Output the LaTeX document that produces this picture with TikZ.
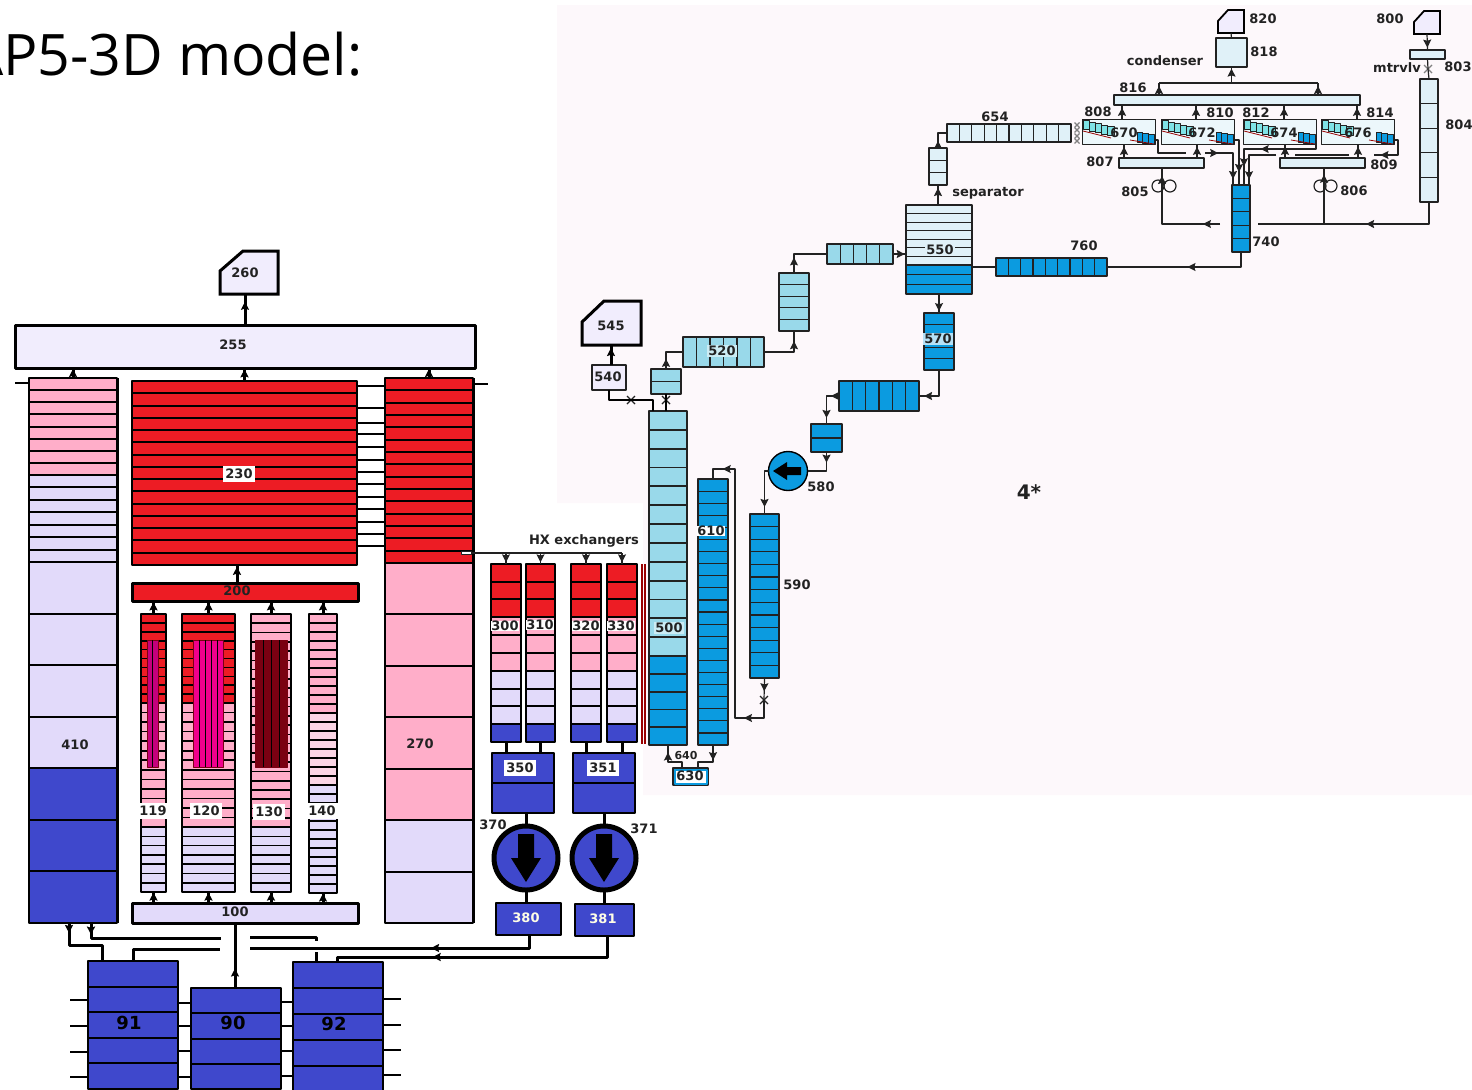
\documentclass[tikz,border=0pt]{standalone}
\usepackage{fontspec}
\usepackage{xcolor}
\usepackage{tikz}
\usetikzlibrary{arrows.meta,decorations.markings,shapes.misc}
\setmainfont{DejaVu Sans}
\newfontfamily\titlefont{Open Sans}
\definecolor{redc}{HTML}{ED1C24}
\definecolor{pinkc}{HTML}{FFAEC9}
\definecolor{palepinkc}{HTML}{FBD5E5}
\definecolor{lavc}{HTML}{E2DAFA}
\definecolor{palelavc}{HTML}{F1EDFD}
\definecolor{bluec}{HTML}{3F48CC}
\definecolor{skyc}{HTML}{99D9EA}
\definecolor{deepc}{HTML}{0B9BE0}
\definecolor{icec}{HTML}{E0F1F8}
\definecolor{tealc}{HTML}{7FE3E6}
\definecolor{bgc}{HTML}{FDF8FB}
\definecolor{inkc}{HTML}{222222}
\definecolor{rodac}{HTML}{C4007C}
\definecolor{rodbc}{HTML}{F0008C}
\definecolor{rodcc}{HTML}{7A0012}
\tikzset{
  stack/.style={draw=black,line width=1pt,inner sep=0pt,outer sep=0pt},
  divider/.style={draw=black,line width=1pt},
  thinpart/.style={stack/.append style={draw=inkc,line width=.6pt},divider/.append style={draw=inkc,line width=.6pt}},
  lbl/.style={font=\bfseries\fontsize{6.5}{7}\selectfont,text=inkc,inner sep=.6pt},
  lblw/.style={lbl,fill=white,inner sep=1.4pt},
  lblt/.style={lbl,fill=white,inner sep=.2pt},
  lblb/.style={lbl,fill=#1,inner sep=.6pt},
  pipe/.style={draw=inkc,line width=.6pt},
  hpipe/.style={draw=black,line width=1.5pt},
  arrowat/.style={postaction={decorate,decoration={markings,mark=at position #1 with {\arrow{Stealth[length=4pt,width=4pt,inset=.6pt]}}}}},
  valve/.style={cross out,draw=inkc,line width=.6pt,minimum size=4pt,inner sep=0pt,outer sep=0pt},
  loopc/.style={circle,draw=inkc,line width=.6pt,minimum size=6pt,inner sep=0pt},
  pumpc/.style={circle,draw=black,inner sep=0pt,outer sep=0pt},
}
% cells stacked downwards: name, x0, x1, y0, y1, count, colour
\newcommand{\vcells}[7]{%
  \pgfmathsetmacro\cellw{(#3-#2)*0.5}%
  \pgfmathsetmacro\cellh{(#5-#4)*0.5}%
  \node[stack,fill=#7,minimum width=\cellw pt,minimum height=\cellh pt] (#1) at ({(#2+#3)/2},{(#4+#5)/2}) {};
  \pgfmathtruncatemacro\celln{#6-1}%
  \ifnum\celln>0
    \foreach \k in {1,...,\celln}{\pgfmathsetmacro\yk{#4+\k*(#5-#4)/#6}\draw[divider] (#2,\yk) -- (#3,\yk);}
  \fi
}
% cells side by side
\newcommand{\hcells}[7]{%
  \pgfmathsetmacro\cellw{(#3-#2)*0.5}%
  \pgfmathsetmacro\cellh{(#5-#4)*0.5}%
  \node[stack,fill=#7,minimum width=\cellw pt,minimum height=\cellh pt] (#1) at ({(#2+#3)/2},{(#4+#5)/2}) {};
  \pgfmathtruncatemacro\celln{#6-1}%
  \ifnum\celln>0
    \foreach \k in {1,...,\celln}{\pgfmathsetmacro\xk{#2+\k*(#3-#2)/#6}\draw[divider] (\xk,#4) -- (\xk,#5);}
  \fi
}
% tank with a cut corner: name, x0, x1, y0, y1, cut x, cut y, width
\newcommand{\tank}[8]{%
  \draw[draw=black,line width=#8,fill=palelavc,line join=miter] (#2,#5) -- (#2,#7) -- (#6,#4) -- (#3,#4) -- (#3,#5) -- cycle;
  \pgfmathsetmacro\cellw{(#3-#2)*0.5}%
  \pgfmathsetmacro\cellh{(#5-#4)*0.5}%
  \node[inner sep=0pt,outer sep=0pt,minimum width=\cellw pt,minimum height=\cellh pt] (#1) at ({(#2+#3)/2},{(#4+#5)/2}) {};
}
% condenser unit with its slanted tubes
\newcommand{\condunit}[2]{%
  \node[stack,fill=icec!60!white,line width=.5pt,minimum width=36.5pt,minimum height=12.5pt] (#1) at ({#2+36.5},131.5) {};
  \foreach \i in {0,...,4}{\draw[draw=inkc,line width=.4pt,fill=tealc] ({#2+1+6.2*\i},{120.5+1.5*\i}) rectangle +(6.2,9);}
  \foreach \i in {0,...,2}{\draw[draw=inkc,line width=.4pt,fill=deepc] ({#2+55+5.8*\i},{132+1.2*\i}) rectangle +(5.8,10);}
  \draw[draw=red!60!black,line width=.4pt] (#2+1,131) -- (#2+29,138);
  \draw[draw=red!60!black,line width=.4pt] (#2+48,140) -- (#2+72,144);
}
\begin{document}
\begin{tikzpicture}[x=0.5pt,y=-0.5pt,>=Stealth,line join=round]
  \useasboundingbox (0,0) rectangle (1472,1089);
  \fill[bgc] (557,5) -- (1472,5) -- (1472,795) -- (643,795) -- (643,503) -- (557,503) -- cycle;
  \node[anchor=base east,font=\titlefont\fontsize{28.6}{30}\selectfont,text=black,inner sep=0pt] (title) at (363,75) {AP5-3D model:};

  % primary side
  \tank{t260}{220}{278}{251}{294}{243}{271}{1.5pt}
  \begin{scope}[stack/.append style={line width=1.5pt}]
    \vcells{c255}{15}{475}{325}{368}{1}{palelavc}
    \vcells{c200}{132}{358}{583}{601}{1}{redc}
    \vcells{c100}{132}{358}{903}{923}{1}{lavc}
  \end{scope}
  \vcells{c410a}{29}{117}{378}{475}{8}{pinkc}
  \vcells{c410b}{29}{117}{475}{562}{7}{lavc}
  \vcells{c410c}{29}{117}{562}{768}{4}{lavc}
  \vcells{c410d}{29}{117}{768}{923}{3}{bluec}
  \vcells{c230}{132}{357}{381}{565}{15}{redc}
  \vcells{c270a}{385}{473}{378}{563}{15}{redc}
  \vcells{c270b}{385}{473}{563}{820}{5}{pinkc}
  \vcells{c270c}{385}{473}{820}{923}{2}{lavc}
  \draw[divider,line width=1.5pt] (117,378) -- (117,923);
  \draw[divider,line width=1.5pt] (473,378) -- (473,923);
  \draw[divider] (15,383) -- (30,383);
  \draw[divider] (473,384) -- (488,384);
  \foreach \y in {386,408,423,434,447,460,472,484,497,509,522,534,546}{\draw[divider] (357,\y) -- (385,\y);}
  \begin{scope}[stack/.append style={line width=.8pt},divider/.append style={line width=.8pt}]
    \vcells{c119a}{141}{166}{614}{703}{10}{redc}
    \vcells{c119b}{141}{166}{703}{827}{13}{pinkc}
    \vcells{c119c}{141}{166}{827}{892}{7}{lavc}
    \vcells{c120a}{182}{235}{614}{703}{10}{redc}
    \vcells{c120b}{182}{235}{703}{827}{13}{pinkc}
    \vcells{c120c}{182}{235}{827}{892}{7}{lavc}
    \vcells{c130a}{251}{291}{614}{827}{23}{pinkc}
    \vcells{c130c}{251}{291}{827}{892}{7}{lavc}
    \vcells{c140a}{309}{337}{614}{713}{11}{pinkc}
    \vcells{c140b}{309}{337}{713}{785}{8}{palepinkc}
    \vcells{c140c}{309}{337}{785}{893}{12}{lavc}
  \end{scope}
  \begin{scope}[stack/.append style={line width=.4pt,draw=rodcc},divider/.append style={line width=.4pt}]
    \hcells{rod119}{147}{158}{640}{767}{2}{rodac}
    \hcells{rod120}{193}{223}{640}{767}{5}{rodbc}
    \hcells{rod130}{255}{287}{640}{767}{4}{rodcc}
  \end{scope}

  % HX legs
  \foreach \nm/\xa/\xb in {c300/491/521,c310/526/555,c320/571/601,c330/607/637}{
    \vcells{\nm a}{\xa}{\xb}{564}{617}{3}{redc}
    \vcells{\nm b}{\xa}{\xb}{617}{671}{3}{pinkc}
    \vcells{\nm c}{\xa}{\xb}{671}{724}{3}{lavc}
    \vcells{\nm d}{\xa}{\xb}{724}{742}{1}{bluec}
  }
  \draw[red!60!black,line width=.6pt] (642,564) -- (642,744);
  \draw[red!60!black,line width=.6pt] (645,564) -- (645,744);
  \vcells{c350}{492}{554}{753}{813}{2}{bluec}
  \vcells{c351}{573}{635}{753}{813}{2}{bluec}
  \vcells{c380}{496}{561}{903}{935}{1}{bluec}
  \vcells{c381}{575}{634}{904}{936}{1}{bluec}
  \foreach \nm/\cx in {p370/526,p371/604}{
    \node[pumpc,fill=bluec,line width=2.5pt,minimum size=32pt] (\nm) at (\cx,858) {};
    \fill[black,shift={(\nm.center)}] (-8,-24) -- (8,-24) -- (8,0) -- (15,0) -- (0,24) -- (-15,0) -- (-8,0) -- cycle;
  }
  \vcells{c91}{88}{178}{961}{1089}{5}{bluec}
  \vcells{c90}{191}{281}{988}{1089}{4}{bluec}
  \vcells{c92}{293}{383}{962}{1092}{5}{bluec}
  \foreach \y in {1000,1026,1052,1077}{\draw[divider] (70,\y) -- (88,\y);}
  \foreach \y in {1003,1026,1051,1077}{\draw[divider] (178,\y) -- (191,\y);}
  \foreach \y in {1002,1026,1051,1076}{\draw[divider] (281,\y) -- (293,\y);}
  \foreach \y in {999,1025,1050,1075}{\draw[divider] (383,\y) -- (401,\y);}

  % secondary side
  \begin{scope}[thinpart]
    \begin{scope}[stack/.append style={line width=.9pt},divider/.append style={line width=.9pt}]
      \vcells{c500a}{649}{687}{411}{656}{13}{skyc}
      \vcells{c500b}{649}{687}{656}{745}{5}{deepc}
    \end{scope}
    \vcells{c610}{698}{728}{479}{745}{22}{deepc}
    \vcells{c590}{750}{779}{514}{678}{13}{deepc}
    \vcells{c630}{673}{708}{768}{785}{1}{deepc}
    \vcells{c500t}{651}{681}{369}{394}{2}{skyc}
    \hcells{c520}{683}{764}{337}{367}{6}{skyc}
    \vcells{c531}{779}{809}{273}{331}{5}{skyc}
    \hcells{c532}{827}{893}{244}{264}{5}{skyc}
    \vcells{c550a}{906}{972}{205}{265}{7}{icec}
    \vcells{c550b}{906}{972}{265}{294}{3}{deepc}
    \vcells{c570}{924}{954}{313}{370}{5}{deepc}
    \hcells{c575}{839}{919}{381}{411}{6}{deepc}
    \vcells{c578}{811}{842}{424}{452}{2}{deepc}
    \vcells{c540}{592}{626}{365}{390}{1}{palelavc}
    \vcells{csep}{929}{947}{148}{185}{3}{icec}
    \hcells{c654}{947}{1071}{124}{142}{10}{icec}
    \hcells{c760}{996}{1107}{258}{276}{9}{deepc}
    \vcells{c740}{1232}{1250}{185}{252}{5}{deepc}
    \vcells{c816}{1114}{1360}{95}{105}{1}{icec}
    \vcells{c818}{1216}{1247}{38}{67}{1}{icec}
    \vcells{c807}{1119}{1204}{158}{168}{1}{icec}
    \vcells{c809}{1280}{1365}{158}{168}{1}{icec}
    \vcells{c803}{1410}{1445}{50}{59}{1}{icec}
    \vcells{c804}{1420}{1438}{79}{202}{5}{icec}
    \condunit{u670}{1082}
    \condunit{u672}{1161}
    \condunit{u674}{1243}
    \condunit{u676}{1321}
  \end{scope}
  \node[draw=deepc,fill=white,line width=1pt,minimum width=16pt,minimum height=7pt,inner sep=0pt] (c630i) at (c630) {};
  \tank{t545}{582}{641}{301}{345}{604}{322}{1.5pt}
  \tank{t820}{1218}{1244}{10}{33}{1228}{21}{.9pt}
  \tank{t800}{1414}{1440}{11}{34}{1424}{22}{.9pt}
  \node[pumpc,fill=deepc,line width=.7pt,minimum size=19.5pt] (p580) at (788,471) {};
  \fill[black,shift={(p580.center)}] (-15,0) -- (-1,-9) -- (-1,-4) -- (13,-4) -- (13,4) -- (-1,4) -- (-1,9) -- cycle;

  % labels
  \foreach \n/\x/\y in {260/245/273,255/233/345,410/75/745,270/420/744,545/611/326,540/608/377,
      580/821/487,590/797/585,370/493/825,371/644/829,654/995/117,760/1084/246,740/1266/242,
      808/1098/112,810/1220/113,812/1256/113,814/1380/113,816/1133/88,818/1264/52,820/1263/19,
      800/1390/19,803/1458/67,804/1459/125,805/1135/192,806/1354/191,807/1100/162,809/1384/165,
      670/1124/133,672/1202/133,674/1284/133,676/1358/133,630/690/776}{
    \node[lbl] (l\n) at (\x,\y) {\n};
  }
  \foreach \n/\x/\y in {230/239/474,119/153/811,120/206/811,130/269/812,140/322/811,350/520/768,351/603/768}{
    \node[lblw] (l\n) at (\x,\y) {\n};
  }
  \foreach \n/\x/\y in {300/505/626,310/540/625,320/586/626,330/621/626,610/711/531}{
    \node[lblt] (l\n) at (\x,\y) {\n};
  }
  \node[lbl] (l200) at (237,591) {200};
  \node[lbl] (l100) at (235,912) {100};
  \node[lbl,font=\bfseries\fontsize{5.5}{6}\selectfont] (l640) at (686,755) {640};
  \node[lblb=skyc!50!white] (l500) at (669,628) {500};
  \node[lblb=skyc!50!white] (l520) at (722,351) {520};
  \node[lblb=icec] (l550) at (940,250) {550};
  \node[lblb=white!70!deepc] (l570) at (938,339) {570};
  \node[lbl,text=white!90!yellow] (l380) at (526,918) {380};
  \node[lbl,text=white!90!yellow] (l381) at (603,919) {381};
  \foreach \n/\x/\y in {91/129/1023,90/233/1023,92/334/1024}{
    \node[lbl,font=\bfseries\fontsize{9}{10}\selectfont,text=black] (l\n) at (\x,\y) {\n};
  }
  \node[lbl] (lhx) at (584,541) {HX exchangers};
  \node[lbl] (lcond) at (1165,61) {condenser};
  \node[lbl] (lsep) at (988,193) {separator};
  \node[lbl] (lmtr) at (1397,68) {mtrvlv};
  \node[lbl,font=\bfseries\fontsize{10}{11}\selectfont] (lfour) at (1029,492) {4*};

  % primary connectors
  \draw[hpipe,arrowat=.75] (c255.north -| l260) -- (t260.south -| l260);
  \draw[hpipe,arrowat=.9] (c410a.north) -- (c410a.north |- c255.south);
  \draw[hpipe,arrowat=.9] (c230.north) -- (c230.north |- c255.south);
  \draw[hpipe,arrowat=.9] (c270a.north) -- (c270a.north |- c255.south);
  \draw[hpipe,arrowat=.9] (l200 |- c200.north) -- (l200 |- c230.south);
  \foreach \nm in {c119a,c120a,c130a,c140a}{\draw[hpipe,arrowat=.9] (\nm.north) -- (\nm.north |- c200.south);}
  \foreach \nm in {c119c,c120c,c130c,c140c}{\draw[hpipe,arrowat=.95] (\nm.south |- c100.north) -- (\nm.south);}
  \draw[hpipe,arrowat=.3] (l100 |- c90.north) -- (l100 |- c100.south);
  \coordinate (in410a) at (69,923);
  \coordinate (in410b) at (91,923);
  \coordinate (out91a) at (102,961);
  \coordinate (out91b) at (133,961);
  \coordinate (in92a) at (316,962);
  \coordinate (in92b) at (337,962);
  \coordinate (gapla) at (221,938);
  \coordinate (gapra) at (250,937);
  \coordinate (gaplb) at (220,949);
  \coordinate (gaprb) at (250,948);
  \coordinate (brk92a) at (316,941);
  \coordinate (brk92b) at (316,952);
  \coordinate (out380) at (529,935);
  \coordinate (out381) at (607,936);
  \draw[hpipe,arrowat=.14] (in410a) -- (69,945) -| (out91a);
  \draw[hpipe,arrowat=.08] (in410b) |- (gapla);
  \draw[hpipe] (gapra) -| (brk92a);
  \draw[hpipe] (brk92b) -- (in92a);
  \draw[hpipe] (out91b) |- (gaplb);
  \draw[hpipe,arrowat=.38] (out380) |- (gaprb);
  \draw[hpipe,arrowat=.66] (out381) |- (in92b |- 0,957) -- (in92b);

  % HX connectors
  \coordinate (hxa) at (461,553);
  \draw[pipe] (hxa) -- (c330a.north |- hxa);
  \draw[draw=inkc,line width=.4pt,fill=white] (461,551.5) rectangle (471,554.5);
  \foreach \nm in {c300a,c310a,c320a,c330a}{\draw[pipe,arrowat=.85] (\nm.north |- hxa) -- (\nm.north);}
  \foreach \nm/\tg in {c300d/c350,c310d/c350,c320d/c351,c330d/c351}{\draw[hpipe] (\nm.south) -- (\nm.south |- \tg.north);}
  \draw[hpipe] (c350.south -| p370) -- (p370.north);
  \draw[hpipe] (c351.south -| p371) -- (p371.north);
  \draw[hpipe] (p370.south) -- (p370.south |- c380.north);
  \draw[hpipe] (p371.south) -- (p371.south |- c381.north);

  % secondary connectors
  \node[valve] (v500) at (666,400) {};
  \node[valve] (v540) at (631,400) {};
  \node[valve] (v590) at (764,700) {};
  \node[valve,draw=gray] (vmtr) at (1428,69) {};
  \foreach \y in {125,130,136,141}{\node[valve,minimum size=2.5pt,draw=gray] (vs\y) at (1077,\y) {};}
  \coordinate (in500a) at (653,411);
  \draw[hpipe,arrowat=.85] (c540.north -| l545) -- (t545.south -| l545);
  \draw[hpipe,line width=1pt] (c540.south) |- (v540.center) -- (in500a |- v540) -- (in500a);
  \draw[hpipe,line width=1pt] (c500a.north -| v500) -- (v500.center) -- (c500t.south -| v500);
  \draw[pipe,arrowat=.3] (c500t.north) |- (c520.west);
  \draw[pipe,arrowat=.8] (c520.east) -| (c531.south);
  \draw[pipe,arrowat=.3] (c531.north) |- (c532.west);
  \draw[pipe,arrowat=.9] (c532.east) -- (c532.east -| c550a.west);
  \draw[pipe,arrowat=.9] (c550b.south) -- (c570.north);
  \draw[pipe,arrowat=.89] (c570.south) |- (c575.east);
  \draw[pipe,arrowat=.2,arrowat=.85] (c575.west) -| (c578.north);
  \draw[pipe,arrowat=.28] (c578.south) |- (p580.east);
  \draw[pipe,arrowat=.85] (p580.west) -| (c590.north);
  \coordinate (ret610a) at (735,718);
  \coordinate (ret610b) at (735,469);
  \draw[pipe,arrowat=.6] (c590.south) -- (v590.center);
  \draw[pipe,arrowat=.116,arrowat=.94] (v590.center) |- (ret610a) -- (ret610b) -| (c610.north);
  \coordinate (in630a) at (682,768);
  \coordinate (in630b) at (698,768);
  \draw[pipe,line width=.9pt,arrowat=.8] (in630a) -- (682,762) -| (c500b.south);
  \draw[pipe,line width=.9pt,arrowat=.4] (c610.south) |- (in630b |- 0,762) -- (in630b);
  \draw[pipe,arrowat=.85] (c550a.north -| csep) -- (csep.south);
  \draw[pipe,arrowat=.3] (csep.north) |- (c654.west);
  \draw[pipe] (c760.west) -- (c760.west -| c550b.east);
  \draw[pipe,arrowat=.46] (c740.south) |- (c760.east);

  % condenser connectors
  \foreach \u/\x in {u670/1122,u672/1196,u674/1284,u676/1357}{\draw[pipe,arrowat=.8] (\x,0 |- \u.north) -- (\x,0 |- c816.south);}
  \foreach \s/\u/\x in {c807/u670/1124,c807/u672/1197,c809/u674/1285,c809/u676/1358}{\draw[pipe,arrowat=.8] (\x,0 |- \s.north) -- (\x,0 |- \u.south);}
  \coordinate (top816l) at (1159,83);
  \coordinate (top816r) at (1318,83);
  \draw[pipe] (top816l) -- (top816r);
  \draw[pipe,arrowat=.75] (c816.north -| top816l) -- (top816l);
  \draw[pipe,arrowat=.75] (c816.north -| top816r) -- (top816r);
  \draw[pipe,arrowat=.9] (c818.south |- top816l) -- (c818.south);
  \draw[pipe] (c818.north) -- (t820.south);
  \draw[pipe,arrowat=.85] (t800.south) -- (c803.north);
  \draw[pipe] (c803.south) -- (vmtr.center) -- (c804.north);
  \coordinate (d670) at (1155,140);
  \coordinate (d672) at (1234,140);
  \coordinate (d674) at (1316,140);
  \coordinate (d676) at (1394,140);
  \coordinate (in740a) at (1233,185);
  \coordinate (in740b) at (1239,185);
  \coordinate (in740c) at (1244,185);
  \coordinate (in740d) at (1249,185);
  \draw[pipe] (d670) -- (1158,140) |- (1186,153);
  \draw[pipe,arrowat=.22,arrowat=.9] (1205,153) -| (in740a);
  \draw[pipe,arrowat=.74] (d672) -| (in740b);
  \draw[pipe,arrowat=.55,arrowat=.84] (d674) |- (1260,149) -| (in740c);
  \draw[pipe,arrowat=.85] (d676) -- (1398,140) |- (1374,155);
  \draw[pipe] (1349,155) -- (1295,155);
  \draw[pipe,arrowat=.9] (1276,155) -| (in740d);
  \node[loopc] (lp805a) at (1158,186) {};
  \node[loopc] (lp805b) at (1170,186) {};
  \node[loopc] (lp806a) at (1320,186) {};
  \node[loopc] (lp806b) at (1331,186) {};
  \coordinate (in807) at (1162,168);
  \coordinate (in809) at (1324,168);
  \coordinate (gap740l) at (1220,224);
  \coordinate (gap740r) at (1258,224);
  \draw[pipe,arrowat=.15,arrowat=.93] (gap740l) -| (in807);
  \draw[pipe,arrowat=.44] (c804.south) |- (gap740r);
  \draw[pipe,arrowat=.88] (in809 |- gap740r) -- (in809);
\end{tikzpicture}
\end{document}
